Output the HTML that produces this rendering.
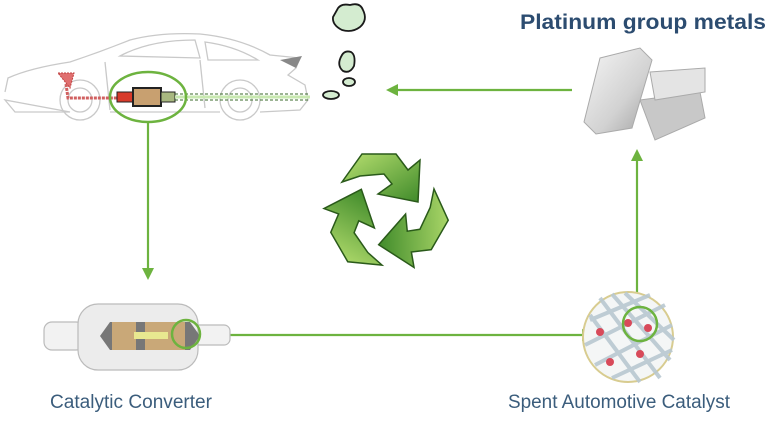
<!DOCTYPE html>
<html><head><meta charset="utf-8"><style>
html,body{margin:0;padding:0;background:#fff;width:768px;height:421px;overflow:hidden}
svg{display:block}
</style></head><body>
<svg width="768" height="421" viewBox="0 0 768 421" xmlns="http://www.w3.org/2000/svg">
<defs>
<linearGradient id="sv" x1="0" y1="0" x2="1" y2="1"><stop offset="0" stop-color="#f6f6f6"/><stop offset="0.6" stop-color="#d2d2d2"/><stop offset="1" stop-color="#a0a0a0"/></linearGradient>
<linearGradient id="gr" x1="0" y1="0" x2="1" y2="1"><stop offset="0" stop-color="#b8e070"/><stop offset="1" stop-color="#3f8a2a"/></linearGradient>
<path id="arr" d="M-44,-30 L-24,-58 L10,-58 L22,-42 L34,-52 L32,-10 L-8,-18 L6,-28 L-2,-38 L-26,-36 Z"/>
</defs>
<text x="520" y="29" font-family="Liberation Sans, sans-serif" font-weight="bold" font-size="21" fill="#2c4c70" textLength="246" lengthAdjust="spacingAndGlyphs">Platinum group metals</text>

<!-- car -->
<g fill="none" stroke="#c9c9c9" stroke-width="1.3">
<path d="M5 92 L8 78 Q30 68 70 62 Q100 52 130 40 Q160 32 200 34 Q240 38 270 55 L300 58 L296 68 L288 75 L305 85 L308 100 L300 110 L260 112 M220 112 L110 112 M70 112 L15 112 L5 100 Z"/>
<path d="M120 56 Q150 40 195 40 L200 58 Z M205 42 Q235 46 258 60 L208 60 Z"/>
<circle cx="80" cy="100" r="20"/><circle cx="80" cy="100" r="12"/>
<circle cx="240" cy="100" r="20"/><circle cx="240" cy="100" r="12"/>
<path d="M105 62 L110 110 M200 60 L205 108"/>
</g>
<path d="M280 60 L302 56 L296 68 Z" fill="#888"/>
<path d="M58 73 L74 73 L70 88 Z" fill="#e07070" stroke="#c04040" stroke-dasharray="2 1"/>
<path d="M66 84 L68 98 L118 98" stroke="#d06060" stroke-width="3" stroke-dasharray="3 1" fill="none"/>
<rect x="117" y="92" width="16" height="10" fill="#d83a2a" stroke="#222"/>
<rect x="133" y="88" width="28" height="18" fill="#c8a070" stroke="#222" stroke-width="2"/>
<rect x="161" y="92" width="14" height="10" fill="#a8b880" stroke="#222"/>
<path d="M175 94 L310 94 M175 100 L310 100" stroke="#3a6a2a" stroke-dasharray="3 2"/>
<path d="M175 97 L310 97" stroke="#c8e8b0" stroke-width="3"/>
<ellipse cx="148" cy="97" rx="38" ry="25" fill="none" stroke="#6db33f" stroke-width="2.5"/>

<!-- clouds -->
<g fill="#d4ecd0" stroke="#1a1a1a" stroke-width="1.8">
<path d="M337 10 Q340 3 350 5 Q360 2 363 10 Q368 20 360 27 Q352 33 342 30 Q332 25 333 17 Z"/>
<path d="M342 55 Q345 50 351 52 Q356 55 354 66 Q350 74 343 71 Q336 65 342 55 Z"/>
<ellipse cx="349" cy="82" rx="6" ry="4"/>
<ellipse cx="331" cy="95" rx="8" ry="4"/>
</g>

<g stroke="#6db33f" stroke-width="2.2" fill="none">
<path d="M572 90 L396 90"/>
<path d="M148 122 L148 272"/>
<path d="M200 335 L585 335"/>
<path d="M637 307 L637 158"/>
</g>
<g fill="#6db33f">
<path d="M386 90 L398 84 L398 96 Z"/>
<path d="M148 280 L142 268 L154 268 Z"/>
<path d="M594 335 L582 329 L582 341 Z"/>
<path d="M637 149 L631 161 L643 161 Z"/>
</g>

<!-- recycle -->
<g transform="translate(386,212)" fill="url(#gr)" stroke="#2a5a1a" stroke-width="1.5">
<use href="#arr"/>
<use href="#arr" transform="rotate(120)"/>
<use href="#arr" transform="rotate(240)"/>
</g>

<!-- silver bars -->
<g stroke="#aaa" stroke-width="1">
<path d="M640 100 L700 92 L705 118 L655 140 Z" fill="#c8c8c8"/>
<path d="M650 72 L705 68 L705 92 L655 100 Z" fill="#e4e4e4"/>
<path d="M600 58 L640 48 L652 60 L632 128 L596 134 L584 122 Z" fill="url(#sv)"/>
</g>

<!-- catalytic converter -->
<g stroke="#bbb" stroke-width="1.2">
<rect x="44" y="322" width="40" height="28" rx="8" fill="#f2f2f2"/>
<rect x="190" y="325" width="40" height="20" rx="6" fill="#f2f2f2"/>
<rect x="78" y="304" width="120" height="66" rx="20" fill="#ececec"/>
</g>
<path d="M110 322 L190 322 L200 336 L190 350 L110 350 L100 336 Z" fill="#777"/>
<rect x="112" y="322" width="24" height="28" fill="#c9a878"/>
<rect x="145" y="322" width="40" height="28" fill="#c9a878"/>
<rect x="134" y="332" width="34" height="7" fill="#e8e890"/>
<circle cx="186" cy="334" r="14" fill="none" stroke="#6db33f" stroke-width="2.5"/>
<text x="131" y="408" text-anchor="middle" font-family="Liberation Sans, sans-serif" font-size="19" fill="#3b5d7c" textLength="162" lengthAdjust="spacingAndGlyphs">Catalytic Converter</text>

<!-- spent catalyst -->
<circle cx="628" cy="337" r="45" fill="#f4f6f6" stroke="#d8cc90" stroke-width="2"/>
<g stroke="#b8c8d0" stroke-width="4" fill="none" opacity="0.9">
<path d="M590 320 L650 295 M585 345 L665 305 M595 365 L672 325 M612 378 L672 350 M600 298 L660 378 M590 315 L640 382 M612 294 L670 360 M625 293 L674 340"/>
</g>
<g fill="#d84a5a">
<circle cx="600" cy="332" r="4"/><circle cx="628" cy="323" r="4"/><circle cx="648" cy="328" r="4"/>
<circle cx="610" cy="362" r="4"/><circle cx="640" cy="354" r="4"/>
</g>
<circle cx="640" cy="324" r="17" fill="none" stroke="#6db33f" stroke-width="2.5"/>
<text x="619" y="408" text-anchor="middle" font-family="Liberation Sans, sans-serif" font-size="19" fill="#3b5d7c" textLength="222" lengthAdjust="spacingAndGlyphs">Spent Automotive Catalyst</text>
</svg>
</body></html>
